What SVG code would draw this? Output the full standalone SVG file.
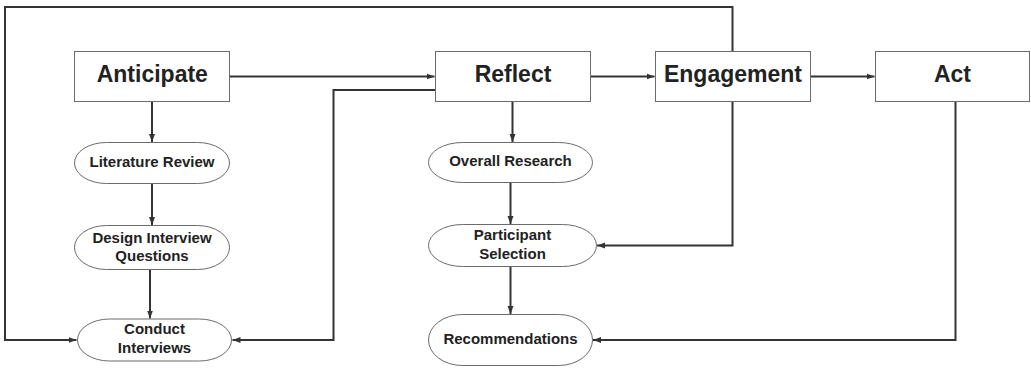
<svg xmlns="http://www.w3.org/2000/svg" width="1031" height="368" viewBox="0 0 1031 368">
<defs>
<style>
.box{fill:#fff;stroke:#6b6b6b;stroke-width:1}
.big{font-family:"Liberation Sans",Arial,sans-serif;font-weight:bold;font-size:23px;fill:#222;text-anchor:middle}
.sm{font-family:"Liberation Sans",Arial,sans-serif;font-weight:bold;font-size:15px;fill:#222;text-anchor:middle}
.ln{fill:none;stroke:#333;stroke-width:2;stroke-linejoin:miter}
</style>
<marker id="ah" markerUnits="userSpaceOnUse" markerWidth="9" markerHeight="7" refX="8" refY="3.5" orient="auto">
<path d="M0,0.5 L8,3.5 L0,6.5 z" fill="#333"/>
</marker>
</defs>
<rect width="1031" height="368" fill="#fff"/>
<g id="connectors">
<path class="ln" d="M732.5,51.5 V7 H5 V340 H76.5" marker-end="url(#ah)"/>
<path class="ln" d="M435.5,90 H333.5 V340 H232.5" marker-end="url(#ah)"/>
<path class="ln" d="M229.5,76.5 H434.5" marker-end="url(#ah)"/>
<path class="ln" d="M590.5,76.5 H654.5" marker-end="url(#ah)"/>
<path class="ln" d="M810.5,76.5 H874.5" marker-end="url(#ah)"/>
<path class="ln" d="M152,101.5 V142" marker-end="url(#ah)"/>
<path class="ln" d="M152,184 V225" marker-end="url(#ah)"/>
<path class="ln" d="M150,269.5 V318.5" marker-end="url(#ah)"/>
<path class="ln" d="M512.5,101.5 V142" marker-end="url(#ah)"/>
<path class="ln" d="M510.5,182.5 V224" marker-end="url(#ah)"/>
<path class="ln" d="M510.5,267 V314" marker-end="url(#ah)"/>
<path class="ln" d="M732.5,101.5 V245.5 H597" marker-end="url(#ah)"/>
<path class="ln" d="M955.5,101.5 V340 H593" marker-end="url(#ah)"/>
</g>
<g id="anticipate"><rect class="box" x="74.5" y="51.5" width="155" height="50"/><text class="big" x="152.3" y="82">Anticipate</text></g>
<g id="reflect"><rect class="box" x="435.5" y="51.5" width="155" height="50"/><text class="big" x="513" y="82">Reflect</text></g>
<g id="engagement"><rect class="box" x="655.5" y="51.5" width="155" height="50"/><text class="big" x="733" y="82">Engagement</text></g>
<g id="act"><rect class="box" x="875.5" y="51.5" width="154" height="50"/><text class="big" x="952.5" y="82">Act</text></g>
<g id="literature-review"><rect class="box" x="74.5" y="142.5" width="155" height="41" rx="32" ry="20.5"/><text class="sm" x="152" y="167">Literature Review</text></g>
<g id="design-interview-questions"><rect class="box" x="74.5" y="225.5" width="155" height="44" rx="32" ry="22"/><text class="sm" x="152" y="243">Design Interview</text><text class="sm" x="152" y="261">Questions</text></g>
<g id="conduct-interviews"><rect class="box" x="77.5" y="319" width="154" height="42" rx="32" ry="21"/><text class="sm" x="154.5" y="334">Conduct</text><text class="sm" x="154.5" y="352.5">Interviews</text></g>
<g id="overall-research"><rect class="box" x="428.5" y="142.5" width="164" height="40" rx="34" ry="20"/><text class="sm" x="510.5" y="166">Overall Research</text></g>
<g id="participant-selection"><rect class="box" x="428.5" y="224.5" width="168" height="42" rx="34" ry="21"/><text class="sm" x="512.5" y="239.5">Participant</text><text class="sm" x="512.5" y="258.5">Selection</text></g>
<g id="recommendations"><rect class="box" x="428.5" y="314.5" width="164" height="51" rx="34" ry="25.5"/><text class="sm" x="510.5" y="344">Recommendations</text></g>
</svg>
